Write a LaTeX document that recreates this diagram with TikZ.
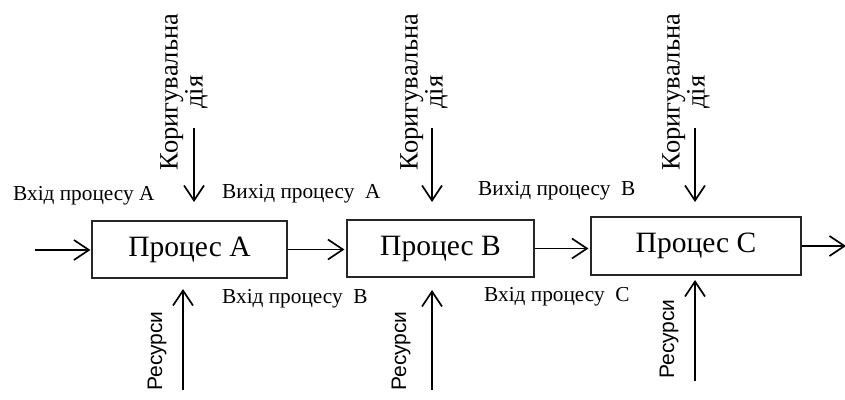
\documentclass[tikz,border=0pt]{standalone}
\usepackage{fontspec}
\setmainfont{Liberation Serif}
\newfontfamily\sansf{Liberation Sans}
\usetikzlibrary{arrows.meta}
\begin{document}
\begin{tikzpicture}[x=1pt,y=-1pt,
  procbox/.style={draw=black!85,line width=1.1pt,minimum height=57pt,inner sep=0pt,font=\fontsize{29.5}{32}\selectfont},
  flow/.style={line width=1.7pt,-{Straight Barb[length=15pt,width=20pt,line width=1.7pt]}},
  lbl/.style={anchor=base west,inner sep=0pt,font=\fontsize{21.3}{24}\selectfont},
  ctl/.style={rotate=90,align=center,inner sep=0pt,font=\fontsize{26.5}{25}\selectfont},
  res/.style={rotate=90,inner sep=0pt,font=\sansf\fontsize{21}{24}\selectfont}]
\useasboundingbox (0,0) rectangle (845,399);
\clip (0,0) rectangle (845,399);
\node[procbox,minimum width=195pt] (A) at (189.5,249.5) {Процес A};
\node[procbox,minimum width=187pt] (B) at (440.5,248.5) {Процес B};
\node[procbox,minimum width=210pt,minimum height=58pt] (C) at (696,246) {Процес C};
% input / output
\coordinate (in) at (35,250);
\coordinate (out) at (846,246);
\draw[flow,shorten >=1pt] (in) -- (in -| A.west);
\draw[flow,shorten >=2pt] (A.east) -- (A.east -| B.west);
\draw[flow,shorten >=2pt] (B.east) -- (B.east -| C.west);
\draw[flow] (C.east) -- (out);
% control arrows
\coordinate (cA1) at (194,128); \coordinate (cA2) at (194,202);
\coordinate (cB1) at (432,128); \coordinate (cB2) at (432,202);
\coordinate (cC1) at (695,128); \coordinate (cC2) at (695,202);
\draw[flow] (cA1) -- (cA2);
\draw[flow] (cB1) -- (cB2);
\draw[flow] (cC1) -- (cC2);
% resource arrows
\coordinate (rA1) at (183,390); \coordinate (rA2) at (183,289);
\coordinate (rB1) at (432,390); \coordinate (rB2) at (432,290);
\coordinate (rC1) at (695,381); \coordinate (rC2) at (695,280);
\draw[flow] (rA1) -- (rA2);
\draw[flow] (rB1) -- (rB2);
\draw[flow] (rC1) -- (rC2);
% control labels
\node[ctl] (kA) at (184,92) {Коригувальна\\дія};
\node[ctl] (kB) at (424,92) {Коригувальна\\дія};
\node[ctl] (kC) at (686,92) {Коригувальна\\дія};
% resource labels
\node[res] (pA) at (157,351) {Ресурси};
\node[res] (pB) at (401,351) {Ресурси};
\node[res] (pC) at (669,339) {Ресурси};
% flow labels
\node[lbl] (l1) at (13,200) {Вхід процесу A};
\node[lbl] (l2) at (222,198) {Вихід процесу\ \ A};
\node[lbl] (l3) at (222,303) {Вхід процесу\ \ B};
\node[lbl] (l4) at (478,195) {Вихід процесу\ \ B};
\node[lbl] (l5) at (484,301) {Вхід процесу\ \ C};
\end{tikzpicture}
\end{document}
